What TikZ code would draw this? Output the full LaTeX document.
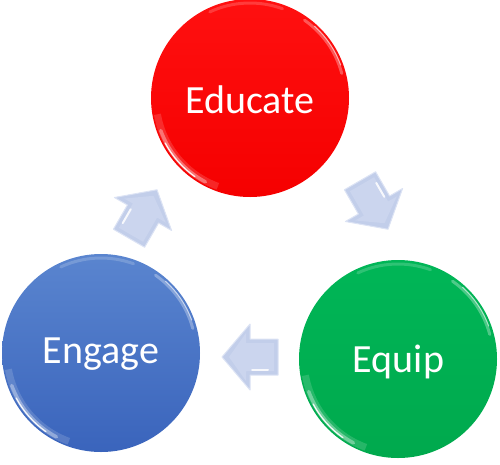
\documentclass[tikz,border=0pt]{standalone}
\usepackage{fontspec}
\setmainfont{Carlito}
\definecolor{redtop}{HTML}{FF1010}
\definecolor{redbot}{HTML}{F50000}
\definecolor{greentop}{HTML}{00B657}
\definecolor{greenbot}{HTML}{00A94D}
\definecolor{bluetop}{HTML}{5A85CF}
\definecolor{bluebot}{HTML}{3A64BC}
\definecolor{arrowfill}{HTML}{C2CEEA}
\definecolor{arrowinner}{HTML}{CBD5EE}
\definecolor{arrowedge}{HTML}{DCE3F4}
\begin{document}
\begin{tikzpicture}[x=1pt,y=-1pt,
  ball/.style={circle, minimum size=198pt, inner sep=0pt},
  lbl/.style={text=white, font=\fontsize{40}{42}\selectfont, anchor=base, inner sep=0pt},
  blockarr/.pic={
    \filldraw[fill=arrowfill, draw=arrowedge, line width=1pt, line join=round]
      (-28,-18) -- (0,-18) -- (0,-33) -- (28,0) -- (0,33) -- (0,18) -- (-28,18) -- cycle;
    \fill[arrowinner]
      (-24,-14) -- (4,-14) -- (4,-24) -- (21,0) -- (4,24) -- (4,14) -- (-24,14) -- cycle;
    \draw[white, line width=2pt, line cap=round, opacity=0.85] (-2,-13) -- (-18,-13);
  }
]
\useasboundingbox (0,0) rectangle (500,464);

% balls
\node[ball, top color=redtop, bottom color=redbot] (edu) at (250,98) {};
\node[ball, top color=greentop, bottom color=greenbot] (equ) at (398,359) {};
\node[ball, top color=bluetop, bottom color=bluebot] (eng) at (101,353) {};

% gloss rims
\foreach \c in {edu,equ,eng}{
  \draw[white, opacity=0.15, line width=7pt] (\c) ++(110:94) arc[start angle=110, end angle=170, radius=94];
  \draw[white, opacity=0.35, line width=3.5pt, line cap=round] (\c) ++(118:95) arc[start angle=118, end angle=160, radius=95];
  \draw[white, opacity=0.9, line width=1.3pt, line cap=round] (\c) ++(125:96) arc[start angle=125, end angle=152, radius=96];
  \draw[white, opacity=0.3, line width=3pt, line cap=round] (\c) ++(305:95) arc[start angle=305, end angle=345, radius=95];
  \draw[white, opacity=0.6, line width=1pt, line cap=round] (\c) ++(312:96.5) arc[start angle=312, end angle=340, radius=96.5];
  \draw[white, opacity=0.18, line width=3pt, line cap=round] (\c) ++(245:95) arc[start angle=245, end angle=290, radius=95];
}

% labels
\node[lbl] (edut) at (250,113) {Educate};
\node[lbl] (equt) at (398.5,372) {Equip};
\node[lbl] (engt) at (101,363) {Engage};

% block arrows
\pic[rotate=60] (a1) at (143,214) {blockarr};
\pic[rotate=-60] (a2) at (374,205) {blockarr};
\pic[rotate=180] (a3) at (250,357) {blockarr};
\end{tikzpicture}
\end{document}
